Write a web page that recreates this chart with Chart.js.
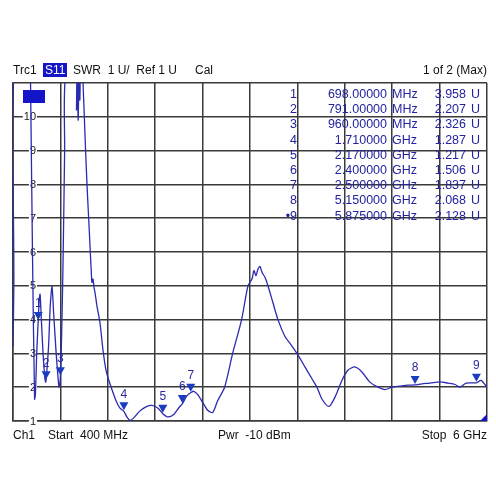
<!DOCTYPE html>
<html>
<head>
<meta charset="utf-8">
<script src="https://cdn.jsdelivr.net/npm/chart.js@4"></script>
<style>
  body { margin: 0; background: #fff; }
  #wrap { position: relative; width: 496px; height: 496px; overflow: hidden; font-family: "Liberation Sans", Arial, sans-serif; }
  #c { position: absolute; left: 0; top: 0; }
  .t { position: absolute; white-space: nowrap; font-size: 12px; color: #111; line-height: 14px; }
  .s11 { background: #1414c8; color: #fff; padding: 0 2px; }
  .row { position: absolute; left: 0; width: 496px; height: 15px; font-size: 12.5px; color: #2323a0; line-height: 15px; }
  .row span { position: absolute; top: 0; white-space: nowrap; }
  .r { text-align: right; }
</style>
</head>
<body>
<div id="wrap">
  <canvas id="c" width="496" height="496"></canvas>
  <div class="t" style="left:13px;top:63px">Trc1</div>
  <div class="t s11" style="left:43px;top:63px">S11</div>
  <div class="t" style="left:73px;top:63px">SWR&nbsp;&nbsp;1 U/&nbsp;&nbsp;Ref 1 U</div>
  <div class="t" style="left:195px;top:63px">Cal</div>
  <div class="t" style="right:9px;top:63px">1 of 2 (Max)</div>
  <div id="table"></div>
  <div class="t" style="left:13px;top:428px">Ch1</div>
  <div class="t" style="left:48px;top:428px">Start&nbsp;&nbsp;400 MHz</div>
  <div class="t" style="left:218px;top:428px">Pwr&nbsp;&nbsp;-10 dBm</div>
  <div class="t" style="right:9px;top:428px">Stop&nbsp;&nbsp;6 GHz</div>
</div>
<script>
const freqMHz = [400, 410, 420, 600, 605, 630, 655, 665, 680, 698, 710, 720, 735, 755, 775, 785, 791,
  820, 840, 861, 880, 910, 935, 945, 960, 975, 990, 1010, 1020,
  1140, 1150, 1160, 1170, 1180, 1190, 1200, 1227, 1250, 1274, 1298, 1321, 1333, 1345, 1357, 1369, 1392,
  1428, 1463, 1499, 1546, 1617, 1664, 1710, 1745, 1782, 1829, 1900, 1971, 2042, 2113, 2170, 2231,
  2302, 2361, 2400, 2456, 2500, 2536, 2583, 2641, 2700, 2759, 2818, 2900, 2995, 3101, 3176, 3223,
  3247, 3271, 3294, 3318, 3341, 3377, 3412, 3471, 3530, 3613, 3672, 3755, 3849, 3932, 3991, 4050,
  4132, 4203, 4286, 4357, 4439, 4522, 4617, 4711, 4794, 4877, 4971, 5066, 5150, 5232, 5326, 5444,
  5539, 5622, 5681, 5752, 5823, 5875, 5929, 6000];
const swr = [3.2, 5.0, 12, 12, 11.5, 6, 1.65, 1.8, 3.0, 3.958, 4.6, 4.75, 4.0, 3.0, 2.3, 2.15, 2.207,
  3.2, 4.4, 4.98, 4.2, 3.0, 2.2, 2.0, 2.326, 3.6, 5.5, 9, 11.2,
  11.5, 10.2, 11.3, 9.9, 11.2, 10.5, 12, 11, 9.5, 8.0, 6.8, 5.6, 5.1, 5.2, 4.95, 4.8, 4.4,
  3.9, 3.1, 2.5, 2.1, 1.6, 1.38, 1.287, 1.12, 1.02, 1.1, 1.3, 1.42, 1.46, 1.38, 1.217, 1.12,
  1.2, 1.4, 1.506, 1.75, 1.837, 1.88, 1.78, 1.55, 1.32, 1.25, 1.6, 2.0, 3.0, 4.0, 5.0, 5.2,
  5.45, 5.3, 5.5, 5.57, 5.4, 5.25, 5.0, 4.5, 4.0, 3.5, 3.3, 3.0, 2.6, 2.25, 2.0, 1.65,
  1.43, 1.7, 2.2, 2.5, 2.6, 2.45, 2.15, 2.0, 1.93, 2.0, 2.03, 2.06, 2.068, 2.1, 2.12, 2.16,
  2.12, 2.08, 2.0, 2.12, 2.13, 2.128, 2.2, 2.0];

// marcadores
const markerNum = ['1', '2', '3', '4', '5', '6', '7', '8', '9'];
const markerFreq = [698, 791, 960, 1710, 2170, 2400, 2500, 5150, 5875];
const markerSwr = [3.958, 2.207, 2.326, 1.287, 1.217, 1.506, 1.837, 2.068, 2.128];
const markerFreqText = ['698.00000', '791.00000', '960.00000', '1.710000', '2.170000', '2.400000', '2.500000', '5.150000', '5.875000'];
const markerUnit = ['MHz', 'MHz', 'MHz', 'GHz', 'GHz', 'GHz', 'GHz', 'GHz', 'GHz'];
const markerSwrText = ['3.958', '2.207', '2.326', '1.287', '1.217', '1.506', '1.837', '2.068', '2.128'];

const yTickLabels = [1, 2, 3, 4, 5, 6, 7, 8, 9, 10];

// tabla de marcadores en HTML
const table = document.getElementById('table');
markerNum.forEach((n, i) => {
  const row = document.createElement('div');
  row.className = 'row';
  row.style.top = (87 + i * 15.2) + 'px';
  row.innerHTML =
    '<span class="r" style="right:' + (496 - 297) + 'px">' + (i === 8 ? '\u2022' : '') + n + '</span>' +
    '<span class="r" style="right:' + (496 - 387) + 'px">' + markerFreqText[i] + '</span>' +
    '<span style="left:392px">' + markerUnit[i] + '</span>' +
    '<span class="r" style="right:' + (496 - 466) + 'px">' + markerSwrText[i] + '</span>' +
    '<span style="left:471px">U</span>';
  table.appendChild(row);
});

const gridColor = '#3a3a3a';
const traceColor = '#2b2bb0';

// etiquetas del eje Y, marcadores y extras
const extras = {
  id: 'extras',
  beforeDatasetsDraw(chart) {
    const c = chart.ctx, y = chart.scales.y, x = chart.scales.x;
    c.save();
    c.font = '11px "Liberation Sans", Arial, sans-serif';
    c.textAlign = 'right';
    c.textBaseline = 'middle';
    yTickLabels.forEach(v => {
      const py = y.getPixelForValue(v);
      const w = c.measureText(String(v)).width;
      c.fillStyle = '#fff';
      c.fillRect(36 - w - 1, py - 5, w + 2, 10);
      c.fillStyle = '#222';
      c.fillText(String(v), 36, py + 0.5);
    });
    c.restore();
  },
  afterDatasetsDraw(chart) {
    const c = chart.ctx, y = chart.scales.y, x = chart.scales.x;
    c.save();
    c.fillStyle = '#1c3cc0';
    markerFreq.forEach((f, i) => {
      const px = x.getPixelForValue(f), py = y.getPixelForValue(markerSwr[i]);
      c.beginPath();
      c.moveTo(px - 4.5, py - 9);
      c.lineTo(px + 4.5, py - 9);
      c.lineTo(px, py - 1);
      c.closePath();
      c.fill();
    });
    c.fillStyle = '#2a2aa0';
    c.font = '12px "Liberation Sans", Arial, sans-serif';
    c.textAlign = 'center';
    c.textBaseline = 'middle';
    markerFreq.forEach((f, i) => {
      const px = x.getPixelForValue(f), py = y.getPixelForValue(markerSwr[i]);
      c.fillText(markerNum[i], px, py - 17);
    });
    // indicador de referencia
    const a = chart.chartArea;
    c.fillStyle = '#1414c8';
    c.fillRect(23, 90, 22, 13);
    c.beginPath();
    c.moveTo(a.right - 7, a.bottom);
    c.lineTo(a.right, a.bottom);
    c.lineTo(a.right, a.bottom - 7);
    c.closePath();
    c.fill();
    c.restore();
  }
};

const ctx = document.getElementById('c').getContext('2d');
const chart = new Chart(ctx, {
  type: 'line',
  data: {
    datasets: [{
      data: freqMHz.map((f, i) => ({ x: f, y: swr[i] })),
      borderColor: traceColor,
      borderWidth: 1.3,
      pointRadius: 0,
      tension: 0.25,
      fill: false
    }]
  },
  options: {
    responsive: false,
    animation: false,
    devicePixelRatio: 1,
    layout: { padding: { left: 13, right: 9, top: 83, bottom: 75 } },
    plugins: { legend: { display: false }, tooltip: { enabled: false } },
    scales: {
      x: {
        type: 'linear', min: 400, max: 6000,
        ticks: { display: false, stepSize: 560 },
        grid: { color: gridColor, lineWidth: 1.5, drawTicks: false },
        border: { color: gridColor, width: 1.5 }
      },
      y: {
        min: 1, max: 11,
        ticks: { display: false, stepSize: 1 },
        grid: { color: gridColor, lineWidth: 1.5, drawTicks: false },
        border: { color: gridColor, width: 1.5 }
      }
    }
  },
  plugins: [extras]
});
</script>
</body>
</html>
